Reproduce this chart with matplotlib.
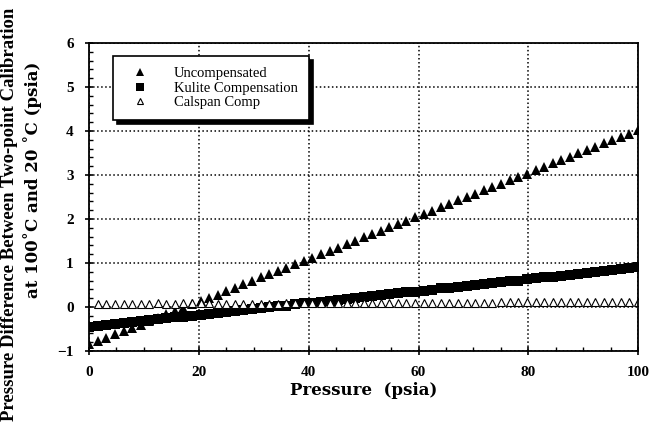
import matplotlib.pyplot as plt
from matplotlib.ticker import MultipleLocator

plt.rcParams['font.family'] = ['Liberation Serif', 'DejaVu Serif']

# pressure grid (psia)
pressure = [0, 1.6, 3.1, 4.7, 6.3, 7.8, 9.4, 10.9, 12.5, 14.1, 15.6, 17.2, 18.8,
            20.3, 21.9, 23.4, 25, 26.6, 28.1, 29.7, 31.3, 32.8, 34.4, 35.9, 37.5,
            39.1, 40.6, 42.2, 43.8, 45.3, 46.9, 48.4, 50, 51.6, 53.1, 54.7, 56.3,
            57.8, 59.4, 60.9, 62.5, 64.1, 65.6, 67.2, 68.8, 70.3, 71.9, 73.4, 75,
            76.6, 78.1, 79.7, 81.3, 82.8, 84.4, 85.9, 87.5, 89.1, 90.6, 92.2, 93.8,
            95.3, 96.9, 98.4, 100]

uncomp = [-0.85, -0.77, -0.70, -0.62, -0.55, -0.47, -0.40, -0.33, -0.25, -0.17,
          -0.10, -0.02, 0.06, 0.13, 0.21, 0.28, 0.36, 0.44, 0.51, 0.59, 0.67,
          0.74, 0.82, 0.89, 0.97, 1.05, 1.12, 1.20, 1.28, 1.35, 1.43, 1.50, 1.58,
          1.66, 1.73, 1.81, 1.89, 1.96, 2.04, 2.11, 2.19, 2.27, 2.34, 2.42, 2.50,
          2.57, 2.65, 2.72, 2.80, 2.88, 2.95, 3.03, 3.11, 3.18, 3.26, 3.33, 3.41,
          3.49, 3.56, 3.64, 3.72, 3.79, 3.87, 3.94, 4.02]

kulite = [-0.45, -0.43, -0.41, -0.39, -0.37, -0.34, -0.32, -0.30, -0.28, -0.26,
          -0.24, -0.22, -0.20, -0.18, -0.15, -0.13, -0.11, -0.09, -0.07, -0.05,
          -0.03, -0.01, 0.01, 0.03, 0.06, 0.08, 0.10, 0.12, 0.14, 0.16, 0.18,
          0.20, 0.22, 0.25, 0.27, 0.29, 0.31, 0.33, 0.35, 0.37, 0.39, 0.42, 0.44,
          0.46, 0.48, 0.50, 0.52, 0.54, 0.56, 0.58, 0.60, 0.63, 0.65, 0.67, 0.69,
          0.71, 0.73, 0.75, 0.77, 0.79, 0.82, 0.84, 0.86, 0.88, 0.90]

# Calspan series starts at the second grid point
calspan = [0.07, 0.07, 0.07, 0.07, 0.07, 0.07, 0.07, 0.08, 0.07, 0.07, 0.08,
           0.08, 0.08, 0.08, 0.07, 0.07, 0.07, 0.07, 0.07, 0.07, 0.07, 0.07,
           0.08, 0.08, 0.08, 0.08, 0.09, 0.09, 0.09, 0.09, 0.09, 0.09, 0.09,
           0.09, 0.09, 0.10, 0.10, 0.10, 0.10, 0.10, 0.10, 0.10, 0.10, 0.10,
           0.10, 0.10, 0.10, 0.11, 0.11, 0.11, 0.11, 0.11, 0.11, 0.11, 0.11,
           0.11, 0.11, 0.11, 0.11, 0.11, 0.11, 0.12, 0.12, 0.12]

fig = plt.figure(figsize=(6.57, 4.29), dpi=100)
ax = fig.add_axes([0.1355, 0.182, 0.836, 0.718])

ax.plot(pressure, kulite, 's', color='black', ms=7, mew=0, label='Kulite Compensation')
ax.plot(pressure, uncomp, '^', color='black', ms=6.5, mew=0, label='Uncompensated')
ax.plot(pressure[1:], calspan, '^', mfc='white', mec='black', ms=5.5, mew=0.8,
        label='Calspan Comp')

ax.set_xlim(0, 100)
ax.set_ylim(-1, 6)
ax.xaxis.set_major_locator(MultipleLocator(20))
ax.xaxis.set_minor_locator(MultipleLocator(5))
ax.yaxis.set_major_locator(MultipleLocator(1))
ax.yaxis.set_minor_locator(MultipleLocator(0.2))
ax.tick_params(which='major', direction='inout', length=6, width=1.2,
               labelsize=11, pad=8)
ax.tick_params(which='minor', direction='in', length=3, width=1)
ax.grid(True, which='major', linestyle=':', color='black', linewidth=1.1)
for lbl in ax.get_xticklabels() + ax.get_yticklabels():
    lbl.set_fontweight('bold')
for s in ax.spines.values():
    s.set_linewidth(1.3)

ax.set_xlabel('Pressure  (psia)', fontsize=12, fontweight='bold', labelpad=2,
              family='DejaVu Serif')

fig.text(0.015, 0.5, 'Pressure Difference Between Two-point Calibration',
         rotation=90, ha='center', va='center', fontsize=13.5, fontweight='bold')
fig.text(0.05, 0.58, 'at 100˚C and 20 ˚C (psia)', family='DejaVu Serif',
         rotation=90, ha='center', va='center', fontsize=12, fontweight='bold')

# legend in original order
h, l = ax.get_legend_handles_labels()
order = [1, 0, 2]
leg = ax.legend([h[i] for i in order], [l[i] for i in order], loc='upper left',
                bbox_to_anchor=(0.044, 0.958), fancybox=False, framealpha=1,
                edgecolor='black', fontsize=10.5, handlelength=2.2,
                handletextpad=1.2, borderpad=0.75, labelspacing=0.1,
                borderaxespad=0, markerscale=0.8,
                shadow={'ox': 3, 'oy': -3, 'color': 'black', 'alpha': 1})
leg.get_frame().set_linewidth(1.2)

fig.savefig('out.png', dpi=100)
